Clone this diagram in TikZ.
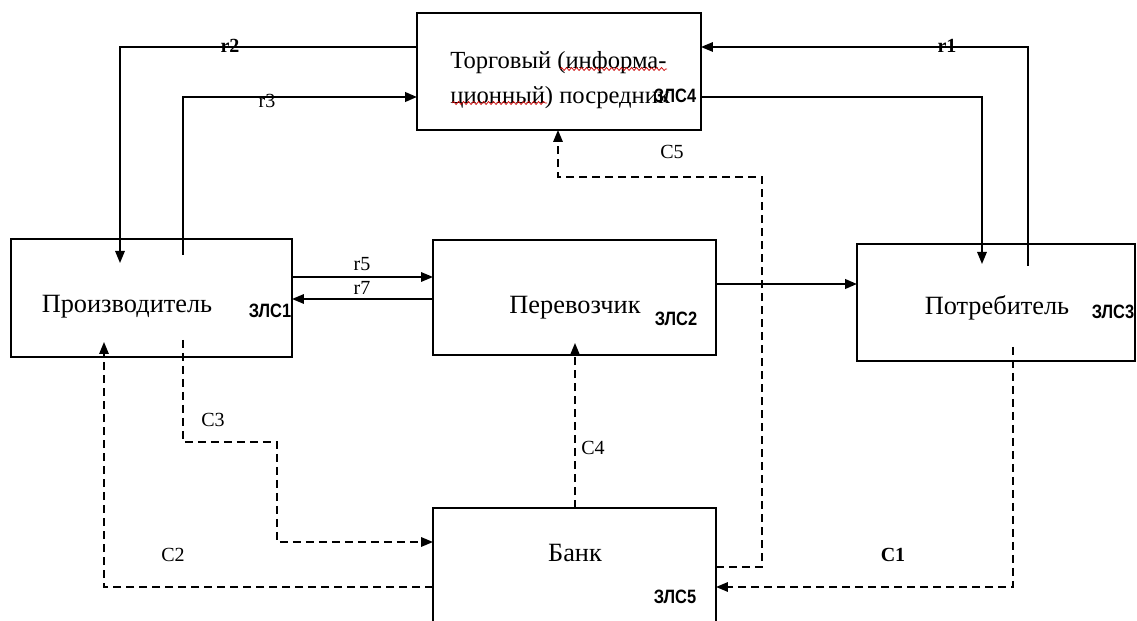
\documentclass[tikz,border=0pt]{standalone}
\usepackage{fontspec}
\setmainfont{Liberation Serif}
\newfontfamily\zlsfont{Liberation Sans}[FakeStretch=0.85]
\usetikzlibrary{arrows.meta,positioning,calc,decorations.pathmorphing}

\begin{document}
\begin{tikzpicture}[
  x=0.02cm, y=-0.02cm,
  box/.style={draw, line width=1pt, inner sep=0pt, outer sep=0pt},
  boxtxt/.style={font=\fontsize{15}{20}\selectfont, inner sep=0pt},
  zls/.style={font=\zlsfont\bfseries\fontsize{11}{12}\selectfont, inner sep=0pt},
  lbl/.style={font=\fontsize{11.4}{13}\selectfont, inner sep=0pt},
  blbl/.style={font=\bfseries\fontsize{11.4}{13}\selectfont, inner sep=0pt},
  flow/.style={-{Triangle[length=2.4mm,width=1.9mm]}, line width=0.9pt},
  cash/.style={-{Triangle[length=2.4mm,width=1.9mm]}, line width=0.9pt, dash pattern=on 1.6mm off 1mm},
  spell/.style={red!80!black, line width=0.4pt, decorate, decoration={snake, segment length=1mm, amplitude=0.3mm}},
]
\useasboundingbox (0,0) rectangle (1137,621);
\clip (0,0) rectangle (1137,621);

% ─── Boxes ───
\node[box, minimum width=5.68cm, minimum height=2.34cm] (top)  at (559,71.5) {};
\node[box, minimum width=5.62cm, minimum height=2.36cm] (prod) at (151.5,298) {};
\node[box, minimum width=5.66cm, minimum height=2.30cm] (carr) at (574.5,297.5) {};
\node[box, minimum width=5.56cm, minimum height=2.34cm] (cons) at (996,302.5) {};
\node[box, minimum width=5.66cm, minimum height=3.00cm] (bank) at (574.5,583) {};

% ─── Box texts ───
\node[boxtxt, font=\fontsize{14}{20}\selectfont, anchor=west, align=left] (toptxt) at (450,80) {Торговый (информа-\\ционный) посредник};
\draw[spell] (560,69) -- (667,69);
\draw[spell] (452,103) -- (547,103);
\node[boxtxt] (prodtxt) at (127,307) {Производитель};
\node[boxtxt] (carrtxt) at (575,308) {Перевозчик};
\node[boxtxt] (constxt) at (997,308) {Потребитель};
\node[boxtxt] (banktxt) at (575,553) {Банк};

\node[zls] (z1) at (270,311) {ЗЛС1};
\node[zls] (z2) at (676,319) {ЗЛС2};
\node[zls] (z3) at (1113,312) {ЗЛС3};
\node[zls] (z4) at (675,96) {ЗЛС4};
\node[zls] (z5) at (675,597) {ЗЛС5};

% free ends inside the boxes
\coordinate (r2in)  at (120,263);
\coordinate (r3out) at (183,255);
\coordinate (r1out) at (1028,266);
\coordinate (consin) at (982,264);
\coordinate (c1out) at (1013,347);
\coordinate (c3out) at (183,340);
\coordinate (c2in)  at (104,342);
\coordinate (c4in)  at (575,343);

% ─── Information flows ───
\draw[flow] (top.west |- 0,47) -| (r2in);
\node[blbl] (r2) at (230,46) {r2};
\draw[flow, line width=1.4pt] (r3out) |- (top.west |- 0,97);
\node[lbl] (r3) at (267,101) {r3};
\draw[flow] (r1out) |- (top.east |- 0,47);
\node[blbl] (r1) at (947,46) {r1};
\draw[flow] (top.east |- 0,97) -| (consin);

\draw[flow] (prod.east |- 0,277) -- (carr.west |- 0,277);
\node[lbl] (r5) at (362,264) {r5};
\draw[flow] (carr.west |- 0,299) -- (prod.east |- 0,299);
\node[lbl] (r7) at (362,288) {r7};
\draw[flow, line width=1.4pt] (carr.east |- 0,284) -- (cons.west |- 0,284);

% ─── Money flows ───
\draw[cash] (bank.east |- 0,567) -| (762,177) -| (top.south -| 558,0);
\node[lbl] (c5) at (672,152) {C5};
\draw[cash] (c1out) |- (bank.east |- 0,587);
\node[blbl] (c1) at (893,555) {C1};
\draw[cash] (bank.north -| c4in) -- (c4in);
\node[lbl] (c4) at (593,448) {C4};
\draw[cash] (c3out) |- (277,442) |- (bank.west |- 0,542);
\node[lbl] (c3) at (213,420) {C3};
\draw[cash] (bank.west |- 0,587) -| (c2in);
\node[lbl] (c2) at (173,555) {C2};

\end{tikzpicture}
\end{document}
